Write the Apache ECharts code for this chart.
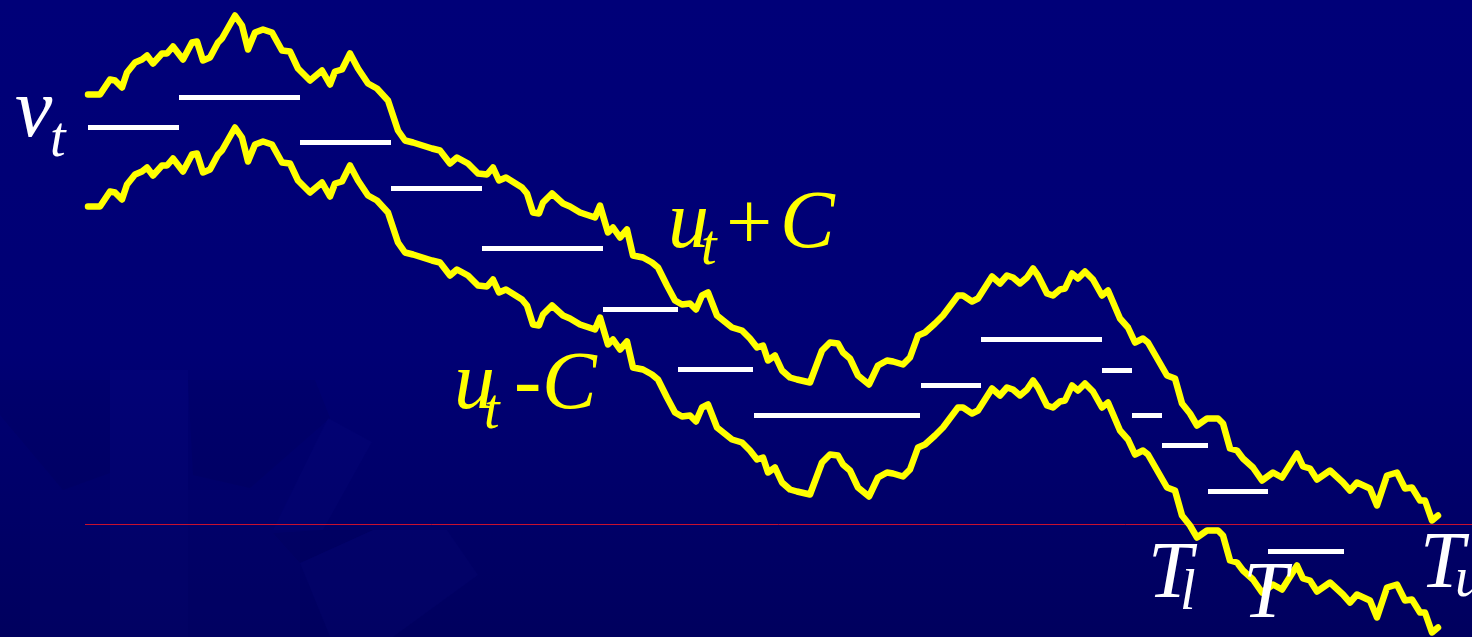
<!DOCTYPE html>
<html>
<head>
<meta charset="utf-8">
<script src="https://cdn.jsdelivr.net/npm/echarts@6/dist/echarts.min.js"></script>
<style>
  html, body { margin: 0; padding: 0; }
  #chart {
    width: 1472px; height: 637px;
    background: linear-gradient(to bottom, #000078 0%, #000074 55%, #00005e 100%);
  }
</style>
</head>
<body>
<div id="chart"></div>
<script>
// time steps of the walk
const tSteps = [0,1.2,2.2,2.7,3.4,3.9,4.7,5.4,5.9,6.5,
  7.4,7.9,8.5,9.5,10.4,10.9,11.5,12.2,13.0,13.4,
  14.7,15.4,16.0,16.7,17.5,18.4,19.4,20.2,21.0,22.2,
  23.4,24.2,24.7,25.4,26.2,27.0,28.0,28.9,30.0,31.0,
  31.7,32.5,34.4,35.2,36.2,36.9,38.0,39.0,39.9,40.5,
  41.1,41.8,43.4,43.9,44.5,45.1,45.5,46.4,47.5,48.2,
  49.2,50.7,51.2,51.7,52.0,52.5,53.2,53.9,54.5,55.5,
  56.4,57.0,57.9,58.7,59.4,60.2,60.8,61.4,62.0,62.9,
  64.4,65.4,66.2,66.9,67.5,68.0,68.7,69.4,70.2,70.9,
  72.2,73.4,74.2,75.0,75.5,76.2,77.0,78.1,79.0,79.9,
  80.5,81.5,82.2,83.0,83.7,84.7,85.5,87.0,87.5,88.4,
  89.0,90.4,91.2,91.9,92.5,93.2,93.9,94.5,95.0,95.9,
  96.5,97.2,97.7,98.4,99.0,99.7,100.5,101.4,102.0,103.2,
  104.0,104.7,105.5,106.0,107.9,108.7,109.4,110.2,110.9,111.9,
  113.0,113.5,114.2,114.9,115.5,116.5,117.4,118.5,119.4,120.9,
  121.5,122.2,122.9,124.2,125.5,126.2,126.9,128.2,128.9,129.9,
  130.9,131.7,132.4,133.2,133.7,134.4,135.0];

// centre path u_t
const uValues = [37.4,37.4,38.9,38.8,38.1,39.6,40.6,40.9,41.3,40.5,
  41.5,41.5,42.2,40.9,42.6,42.7,40.8,41.1,42.6,43.0,
  45.3,44.3,41.9,43.6,43.9,43.6,41.8,41.7,40.0,38.8,
  39.8,38.4,39.7,39.9,41.5,40.0,38.5,38.0,36.8,33.8,
  32.8,32.6,32.0,31.8,30.5,31.1,30.5,29.5,29.4,30.1,
  28.8,29.1,28.1,27.5,25.6,25.5,26.6,27.5,26.5,26.2,
  25.6,25.1,26.3,24.6,23.6,24.1,23.1,23.9,21.3,21.1,
  20.6,20.1,18.3,16.8,16.4,16.5,15.9,17.3,17.6,15.3,
  14.1,13.8,13.0,12.1,12.3,10.8,11.3,9.8,9.1,8.9,
  8.6,11.8,12.6,12.5,11.6,11.0,9.3,8.4,10.3,10.8,
  10.7,10.4,11.1,13.3,13.6,14.5,15.3,17.3,17.3,16.7,
  17.0,19.2,18.5,19.3,19.1,18.5,19.1,20.0,19.3,17.5,
  17.3,17.9,18.0,19.5,19.0,19.7,18.9,17.3,17.8,15.0,
  14.1,12.6,13.0,12.6,9.3,9.0,6.5,5.5,4.3,5.0,
  5.0,4.5,2.0,1.8,1.0,0.1,-1.2,-0.4,-0.9,1.5,
  0.2,0.0,-1.1,-0.2,-1.4,-2.2,-1.4,-2.0,-3.7,-0.7,
  -0.4,-2.0,-1.9,-3.2,-3.2,-5.2,-4.7];

// band half-width
const C = 5.6;

// step function v_t: start, end and level of each flat piece
const vStart = [0,9.1,21.2,30.3,39.4,51.5,59.0,66.6,83.3,89.3,101.4,104.4,107.4,112.0,118.0];
const vEnd   = [9.1,21.2,30.3,39.4,51.5,59.0,66.5,83.2,89.3,101.4,104.4,107.4,112.0,118.0,125.6];
const vLevel = [39.7,42.7,38.2,33.6,27.6,21.5,15.5,10.9,13.9,18.5,15.4,10.9,7.9,3.3,-2.7];

// reference level
const baseLevel = 0;
const baseFrom = -0.3, baseTo = 138.4;

const chart = echarts.init(document.getElementById('chart'), null, { renderer: 'canvas' });

const yellow = '#ffff00';
const upper = tSteps.map((t, i) => [t, +(uValues[i] + C).toFixed(2)]);
const lower = tSteps.map((t, i) => [t, +(uValues[i] - C).toFixed(2)]);

const series = [];
series.push({
  type: 'line', data: [[baseFrom, baseLevel], [baseTo, baseLevel]],
  showSymbol: false, silent: true, z: 1,
  lineStyle: { color: '#c8102e', width: 1 }
});
vStart.forEach((s, i) => {
  series.push({
    type: 'line', data: [[s, vLevel[i]], [vEnd[i], vLevel[i]]],
    showSymbol: false, silent: true, z: 3,
    lineStyle: { color: '#ffffff', width: 5, cap: 'butt' }
  });
});
[upper, lower].forEach(d => {
  series.push({
    type: 'line', data: d, showSymbol: false, silent: true, z: 4,
    lineStyle: { color: yellow, width: 6.5, join: 'round', cap: 'round' }
  });
});

const serif = '"Liberation Serif", "DejaVu Serif", serif';
function label(text, x, base, size, color, italic) {
  return {
    type: 'text', x: x, y: base - 0.33 * size, z: 100,
    style: {
      text: text, fill: color,
      font: (italic ? 'italic ' : '') + size + 'px ' + serif,
      textAlign: 'left', textVerticalAlign: 'middle'
    }
  };
}

const W = 'rgba(40,40,190,0.05)';
const D = 'rgba(0,0,40,0.06)';
const shade = (pts, fill) => ({ type: 'polygon', z: 0, silent: true, shape: { points: pts }, style: { fill: fill } });

const graphic = [
  shade([[0,380],[110,380],[110,473],[63,490],[0,415]], D),
  shade([[110,370],[188,370],[188,637],[110,637]], W),
  shade([[188,380],[315,380],[330,418],[250,488],[193,475]], D),
  shade([[328,418],[372,442],[323,530],[273,530]], W),
  shade([[273,533],[300,563],[373,530],[323,530]], D),
  shade([[300,563],[373,530],[447,530],[478,575],[393,637],[330,637]], W),
  shade([[30,490],[110,490],[110,637],[30,637]], 'rgba(40,40,190,0.03)'),
  shade([[188,490],[300,490],[300,637],[188,637]], 'rgba(40,40,190,0.03)'),

  label('v', 15, 142, 84, '#ffffff', true),
  label('t', 50, 160, 56, '#ffffff', true),

  label('u', 668, 252, 82, yellow, true),
  label('t', 701, 268, 56, yellow, true),
  label('+', 726, 255, 82, yellow, false),
  label('C', 780, 252, 82, yellow, true),

  label('u', 454, 413, 82, yellow, true),
  label('t', 484, 432, 56, yellow, true),
  label('-', 514, 413, 82, yellow, false),
  label('C', 542, 413, 82, yellow, true),

  label('T', 1148, 602, 80, '#ffffff', true),
  label('l', 1180, 613, 56, '#ffffff', true),
  label('T', 1243, 622, 80, '#ffffff', true),
  label('T', 1420, 592, 80, '#ffffff', true),
  label('u', 1455, 600, 56, '#ffffff', true)
];

chart.setOption({
  animation: false,
  backgroundColor: 'transparent',
  grid: { left: 0, right: 0, top: 0, bottom: 0 },
  xAxis: { type: 'value', min: -8.8, max: 138.4, show: false },
  yAxis: { type: 'value', min: -11.25, max: 52.45, show: false },
  series: series,
  graphic: graphic
});
</script>
</body>
</html>
